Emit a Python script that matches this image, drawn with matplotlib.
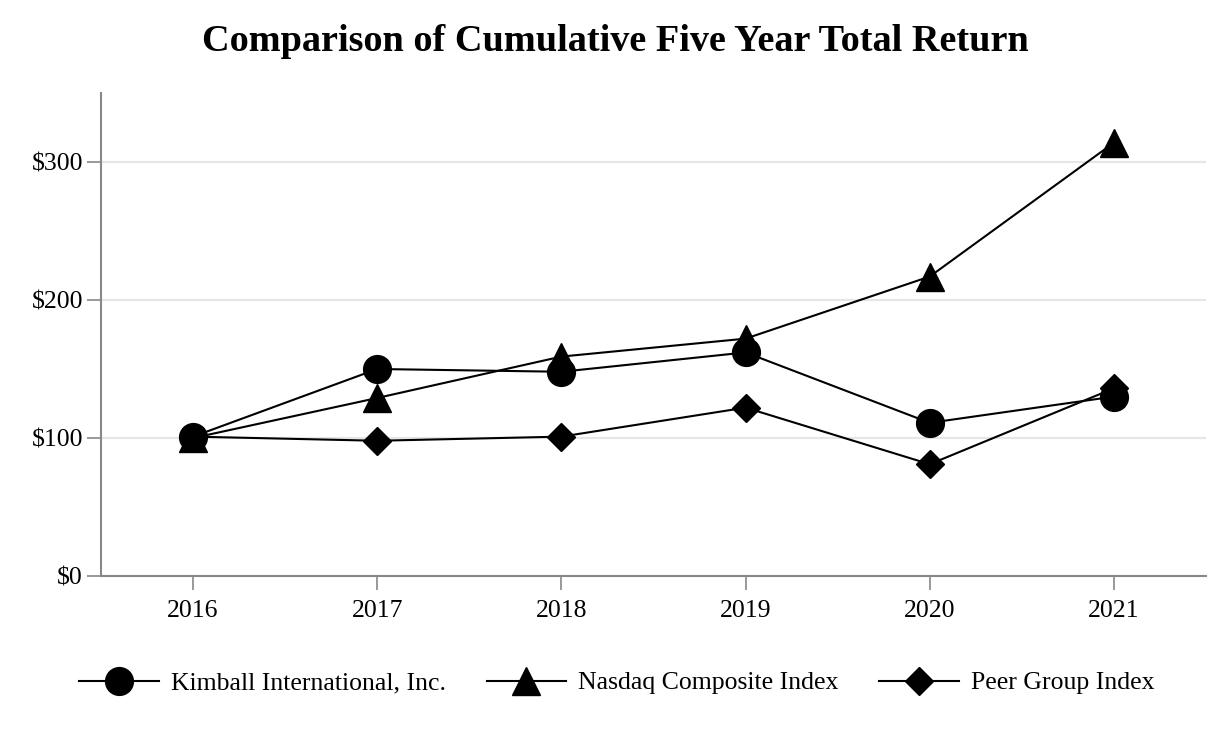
import matplotlib.pyplot as plt
from matplotlib.ticker import FuncFormatter

plt.rcParams['font.family'] = ['Liberation Serif', 'DejaVu Serif']

years = [2016, 2017, 2018, 2019, 2020, 2021]
kimball = [101, 150, 148, 162, 111, 130]
nasdaq = [100, 129, 159, 172, 217, 314]
peer = [101, 98, 101, 122, 81, 136]

fig = plt.figure(figsize=(12.26, 7.32), dpi=100)
ax = fig.add_axes([101 / 1226, 1 - 576 / 732, (1206 - 101) / 1226, (576 - 93) / 732])

ax.plot(years, kimball, color="black", lw=1.5, marker="o", markersize=20,
        label="Kimball International, Inc.", zorder=3)
ax.plot(years, nasdaq, color="black", lw=1.5, marker="^", markersize=20,
        label="Nasdaq Composite Index", zorder=3)
ax.plot(years, peer, color="black", lw=1.5, marker="D", markersize=14,
        label="Peer Group Index", zorder=3)

ax.set_xlim(2015.5, 2021.5)
ax.set_ylim(0, 350)
ax.set_xticks(years)
ax.set_yticks([0, 100, 200, 300])
ax.yaxis.set_major_formatter(FuncFormatter(lambda v, p: f"${v:.0f}"))
ax.grid(axis="y", color="#e6e6e6", lw=1.5)
ax.set_axisbelow(True)

for s in ["top", "right"]:
    ax.spines[s].set_visible(False)
for s in ["left", "bottom"]:
    ax.spines[s].set_color("#888888")
    ax.spines[s].set_linewidth(1.5)
ax.tick_params(axis="both", colors="#888888", length=10, width=1.2,
               labelsize=18.5, labelcolor="black")
ax.tick_params(axis="x", pad=7)
ax.tick_params(axis="y", pad=3)

fig.suptitle("Comparison of Cumulative Five Year Total Return", fontsize=27.5,
             fontweight="bold", y=0.967, x=0.502)

fig.legend(loc="center", bbox_to_anchor=(0.503, 1 - 683 / 732), ncol=3,
           frameon=False, fontsize=18.5, handlelength=3.1, columnspacing=1.6,
           handletextpad=0.45)

fig.savefig("out.png", dpi=100)
